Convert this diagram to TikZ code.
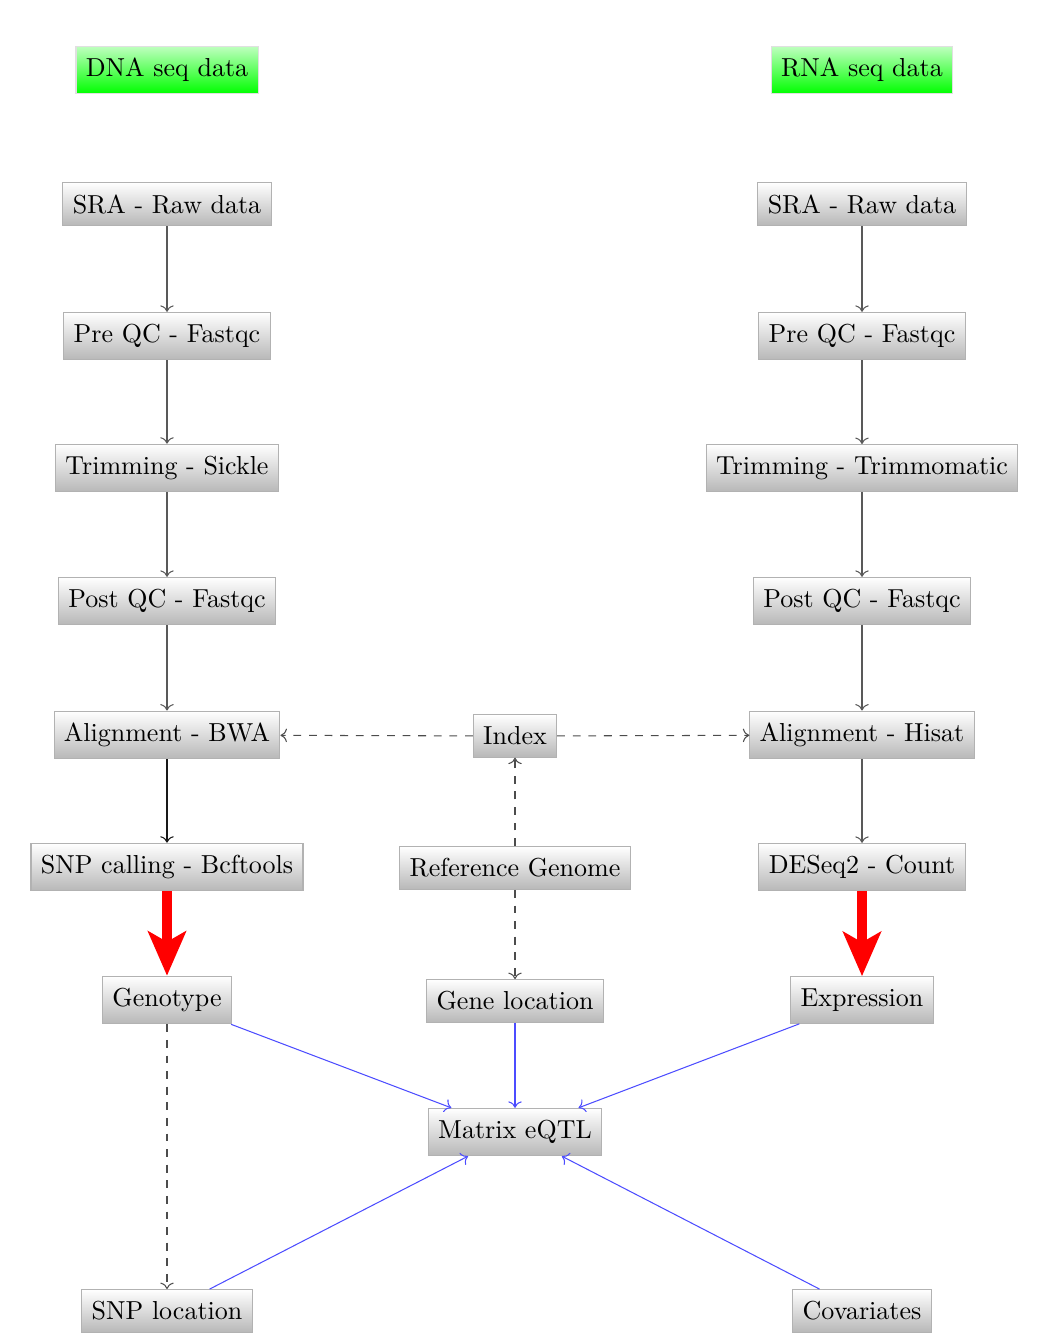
\documentclass[tikz,border=0pt]{standalone}
\usetikzlibrary{arrows.meta}
\begin{document}
\begin{tikzpicture}[x=0.3846pt,y=-0.3846pt,
  box/.style={draw=black!30, top color=white, bottom color=black!28, inner xsep=3.8pt, inner ysep=4.6pt},
  databox/.style={draw=black!12, top color=green!25, middle color=green, bottom color=green, inner xsep=3.8pt, inner ysep=4.6pt},
  flow/.style={->, black!65},
  dflow/.style={->, dashed, black!70},
  bflow/.style={->, blue!70},
  bigarrow/.style={red, line width=3.8pt, -{Stealth[length=17pt,width=14.5pt,inset=4pt]}}]
\useasboundingbox (0,0) rectangle (1037,1335);
% left column
\node[databox] (dna) at (167,70) {DNA seq data};
\node[box] (sraL) at (167,204) {SRA - Raw data};
\node[box] (preL) at (167,336) {Pre QC - Fastqc};
\node[box] (trimL) at (167,468) {Trimming - Sickle};
\node[box] (postL) at (167,601) {Post QC - Fastqc};
\node[box] (alnL) at (167,735) {Alignment - BWA};
\node[box] (snp) at (167,867) {SNP calling - Bcftools};
\node[box] (geno) at (167,1000) {Genotype};
\node[box] (snploc) at (167,1311) {SNP location};
% right column
\node[databox] (rna) at (862,70) {RNA seq data};
\node[box] (sraR) at (862,204) {SRA - Raw data};
\node[box] (preR) at (862,336) {Pre QC - Fastqc};
\node[box] (trimR) at (862,468) {Trimming - Trimmomatic};
\node[box] (postR) at (862,601) {Post QC - Fastqc};
\node[box] (alnR) at (862,735) {Alignment - Hisat};
\node[box] (deseq) at (862,867) {DESeq2 - Count};
\node[box] (expr) at (862,1000) {Expression};
\node[box] (cov) at (862,1311) {Covariates};
% middle
\node[box] (index) at (515,736) {Index};
\node[box] (ref) at (515,868) {Reference Genome};
\node[box] (gene) at (515,1001) {Gene location};
\node[box] (matrix) at (515,1132) {Matrix eQTL};
% connectors
\draw[flow] (sraL) -- (preL);
\draw[flow] (preL) -- (trimL);
\draw[flow] (trimL) -- (postL);
\draw[flow] (postL) -- (alnL);
\draw[->, black!90] (alnL) -- (snp);
\draw[flow] (sraR) -- (preR);
\draw[flow] (preR) -- (trimR);
\draw[flow] (trimR) -- (postR);
\draw[flow] (postR) -- (alnR);
\draw[flow] (alnR) -- (deseq);
\draw[bigarrow] (snp) -- (geno);
\draw[bigarrow] (deseq) -- (expr);
\draw[dflow] (index) -- (alnL);
\draw[dflow] (index) -- (alnR);
\draw[dflow] (ref) -- (index);
\draw[dflow] (ref) -- (gene);
\draw[dflow] (geno) -- (snploc);
\draw[bflow] (geno) -- (matrix);
\draw[bflow] (gene) -- (matrix);
\draw[bflow] (expr) -- (matrix);
\draw[bflow] (snploc) -- (matrix);
\draw[bflow] (cov) -- (matrix);
\end{tikzpicture}
\end{document}
